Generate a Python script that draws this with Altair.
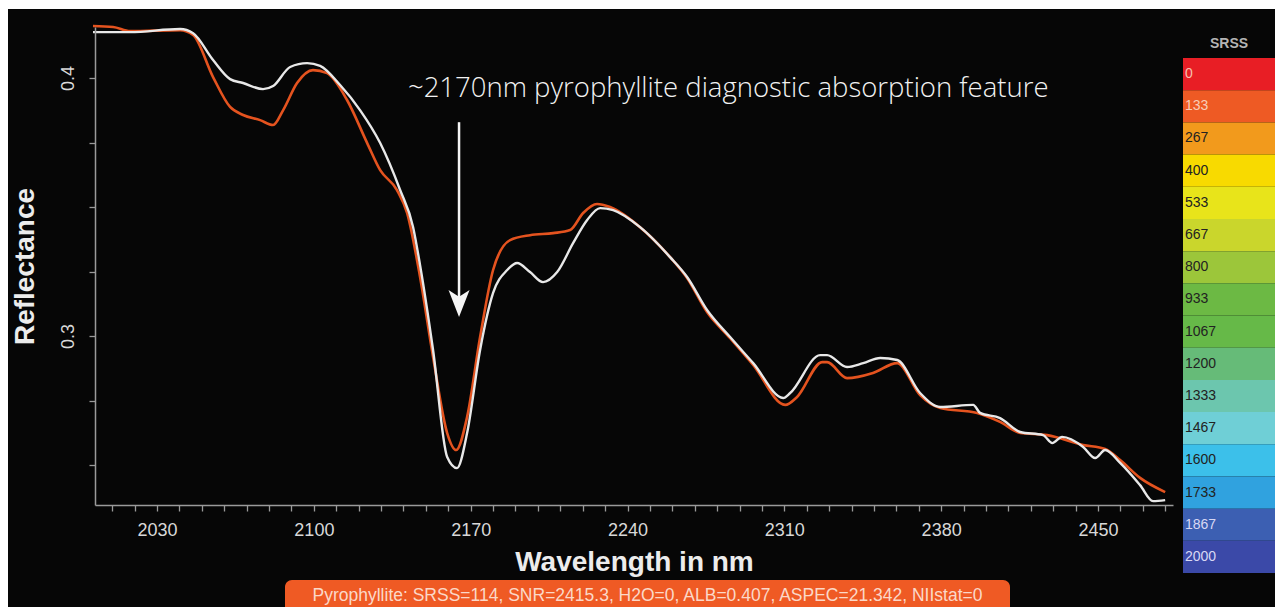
import altair as alt
import pandas as pd

# ---------------- data ----------------
white_nm = [2001.4, 2018.0, 2040.3, 2046.1, 2055.0, 2062.6, 2068.4, 2077.3, 2081.8, 2089.4,
            2097.0, 2102.8, 2111.7, 2120.6, 2129.6, 2138.5, 2144.3, 2147.4, 2153.2, 2159.5,
            2163.9, 2168.4, 2174.2, 2180.0, 2186.3, 2190.7, 2196.5, 2202.3, 2208.6, 2215.7,
            2222.0, 2227.8, 2233.6, 2245.6, 2259.0, 2266.6, 2275.5, 2285.8, 2296.1, 2309.5,
            2312.6, 2326.0, 2329.1, 2338.0, 2345.2, 2352.8, 2360.4, 2370.6, 2379.6, 2394.3,
            2397.4, 2406.3, 2415.3, 2425.5, 2429.6, 2434.0, 2443.4, 2448.8, 2453.2, 2459.9,
            2468.8, 2474.6, 2480.0]
white_refl = [0.4178, 0.4178, 0.4190, 0.4174, 0.4070, 0.3996, 0.3981, 0.3957, 0.3969, 0.4043,
              0.4058, 0.4047, 0.3973, 0.3876, 0.3748, 0.3566, 0.3422, 0.3275, 0.2946, 0.2531,
              0.2488, 0.2624, 0.2946, 0.3167, 0.3256, 0.3283, 0.3248, 0.3209, 0.3248, 0.3360,
              0.3450, 0.3496, 0.3488, 0.3422, 0.3306, 0.3229, 0.3101, 0.2996, 0.2895, 0.2760,
              0.2779, 0.2926, 0.2926, 0.2880, 0.2895, 0.2915, 0.2907, 0.2779, 0.2725, 0.2733,
              0.2702, 0.2682, 0.2628, 0.2616, 0.2585, 0.2609, 0.2570, 0.2527, 0.2558, 0.2508,
              0.2422, 0.2360, 0.2364]

orange_nm = [2001.4, 2010.4, 2018.0, 2040.3, 2046.1, 2055.0, 2062.6, 2068.4, 2076.0, 2081.8,
             2086.3, 2092.5, 2099.6, 2105.9, 2114.8, 2123.8, 2129.6, 2137.1, 2141.6, 2147.4,
             2153.2, 2159.5, 2163.5, 2168.4, 2174.2, 2180.0, 2187.6, 2196.5, 2206.8, 2214.4,
             2220.2, 2226.4, 2232.2, 2245.6, 2259.0, 2266.6, 2275.5, 2285.8, 2296.1, 2310.4,
             2315.7, 2326.9, 2329.1, 2338.0, 2349.6, 2360.4, 2370.6, 2379.6, 2396.1, 2406.3,
             2415.3, 2427.3, 2443.4, 2453.2, 2459.9, 2468.8, 2480.0]
orange_refl = [0.4202, 0.4198, 0.4182, 0.4186, 0.4167, 0.4004, 0.3888, 0.3857, 0.3837, 0.3818,
               0.3876, 0.3981, 0.4031, 0.4019, 0.3915, 0.3748, 0.3643, 0.3566, 0.3477, 0.3229,
               0.2919, 0.2624, 0.2558, 0.2686, 0.2996, 0.3256, 0.3372, 0.3391, 0.3399, 0.3411,
               0.3477, 0.3512, 0.3500, 0.3422, 0.3306, 0.3225, 0.3093, 0.2992, 0.2888, 0.2733,
               0.2764, 0.2899, 0.2899, 0.2837, 0.2857, 0.2895, 0.2771, 0.2721, 0.2702, 0.2667,
               0.2624, 0.2616, 0.2578, 0.2562, 0.2519, 0.2450, 0.2395]

srss_labels = ["0", "133", "267", "400", "533", "667", "800", "933", "1067",
               "1200", "1333", "1467", "1600", "1733", "1867", "2000"]
srss_colors = ["#e81e25", "#ee5a24", "#f29a1c", "#f8da00", "#e8e41a", "#cad62c",
               "#9cc63a", "#6cb944", "#66b948", "#66bb78", "#6cc6ae", "#6fcfd6",
               "#3cc0ea", "#30a2df", "#3c5fb2", "#3b49a8"]
srss_text = ["#f6c0b0", "#f8cdb8", "#222222", "#222222", "#222222", "#222222",
             "#222222", "#222222", "#222222", "#222222", "#222222", "#222222",
             "#222222", "#222222", "#d8d8f4", "#d8d8f4"]

x_ticks = list(range(2010, 2481, 10))
y_ticks = [0.25, 0.275, 0.3, 0.325, 0.35, 0.375, 0.4]

annotation_text = "~2170nm pyrophyllite diagnostic absorption feature"
arrow_nm = 2164.8
arrow_top = 0.3829
arrow_end = 0.3095
arrow_head = 0.3126
annot_nm = 2142.0
annot_refl = 0.3926

status_text = "Pyrophyllite:  SRSS=114, SNR=2415.3, H2O=0, ALB=0.407, ASPEC=21.342, NIIstat=0"

# ---------------- frames ----------------
white_df = pd.DataFrame({"nm": white_nm, "refl": white_refl})
orange_df = pd.DataFrame({"nm": orange_nm, "refl": orange_refl})
n = len(srss_labels)
legend_df = pd.DataFrame({
    "i": list(range(n)),
    "i2": [k + 1 for k in range(n)],
    "label": srss_labels,
    "color": srss_colors,
    "tcolor": srss_text,
})

X_DOM = [2002.3, 2483.5]
Y_DOM = [0.2345, 0.4198]
W, H = 1078, 478

xs = alt.Scale(domain=X_DOM, nice=False, zero=False)
ys = alt.Scale(domain=Y_DOM, nice=False, zero=False)

x_axis = alt.Axis(
    values=x_ticks, tickCount=200,
    labelExpr="(datum.value - 2030) % 70 == 0 ? datum.value : ''",
    title="Wavelength in nm",
    grid=False, zindex=2, labelOverlap=False,
    domainColor="#9a9a9a", domainWidth=1.5,
    tickColor="#9a9a9a", tickWidth=1.3, tickSize=6,
    labelColor="#d8d8d8", labelFont="Liberation Sans", labelFontSize=18,
    labelPadding=10, labelFlush=False,
    titleColor="#ececec", titleFont="Liberation Sans", titleFontSize=28,
    titleFontWeight="bold", titlePadding=9,
)
y_axis = alt.Axis(
    values=y_ticks, tickCount=50,
    labelExpr="(datum.value == 0.3 || datum.value == 0.4) ? format(datum.value, '.1f') : ''",
    title="Reflectance",
    grid=False, zindex=2, labelOverlap=False,
    domainColor="#9a9a9a", domainWidth=1.5,
    tickColor="#9a9a9a", tickWidth=1.3, tickSize=6,
    labelColor="#d8d8d8", labelFont="Liberation Sans", labelFontSize=18,
    labelAngle=270, labelAlign="center", labelBaseline="bottom", labelPadding=12,
    titleColor="#ececec", titleFont="Liberation Sans", titleFontSize=28,
    titleFontWeight="bold", titlePadding=20,
)

orange_line = alt.Chart(orange_df).mark_line(
    color="#e4531f", strokeWidth=2.6, interpolate="monotone"
).encode(
    x=alt.X("nm:Q", scale=xs, axis=x_axis),
    y=alt.Y("refl:Q", scale=ys, axis=y_axis),
)
white_line = alt.Chart(white_df).mark_line(
    color="#e8e8e8", strokeWidth=2.4, interpolate="monotone"
).encode(
    x=alt.X("nm:Q", scale=xs),
    y=alt.Y("refl:Q", scale=ys),
)

arrow_df = pd.DataFrame({"nm": [arrow_nm], "top": [arrow_top], "end": [arrow_end],
                         "head": [arrow_head]})
arrow_shaft = alt.Chart(arrow_df).mark_rule(color="#f4f4f4", strokeWidth=2.5).encode(
    x=alt.X("nm:Q", scale=xs), y=alt.Y("top:Q", scale=ys), y2="end:Q"
)
arrow_tip = alt.Chart(arrow_df).mark_point(
    shape="M0,1 L-0.78,-1 L0,-0.5 L0.78,-1 Z", size=729, filled=True,
    color="#f4f4f4", opacity=1, strokeWidth=0,
).encode(x=alt.X("nm:Q", scale=xs), y=alt.Y("head:Q", scale=ys))

annot_df = pd.DataFrame({"nm": [annot_nm], "refl": [annot_refl], "t": [annotation_text]})
annot = alt.Chart(annot_df).mark_text(
    align="left", baseline="alphabetic", font="Open Sans", fontWeight=300,
    fontSize=27.5, color="#f2f2f2"
).encode(x=alt.X("nm:Q", scale=xs), y=alt.Y("refl:Q", scale=ys), text="t:N")

main = alt.layer(orange_line, white_line, arrow_shaft, arrow_tip, annot)

# ---- SRSS colour bar ----
lx = alt.Scale(domain=[0, 1], range=[1088, 1180], nice=False, zero=False)
ly = alt.Scale(domain=[0, n], range=[31, 546], nice=False, zero=False)
bands = alt.Chart(legend_df).mark_rect().encode(
    x=alt.X(datum=0, scale=lx, axis=None), x2=alt.X2(datum=1),
    y=alt.Y("i:Q", scale=ly, axis=None), y2="i2:Q",
    color=alt.Color("color:N", scale=None),
)
band_labels = alt.Chart(legend_df).transform_calculate(
    mid="datum.i + 0.5"
).mark_text(align="left", baseline="middle", dx=2, font="Liberation Sans", fontSize=14).encode(
    x=alt.X(datum=0, scale=lx, axis=None),
    y=alt.Y("mid:Q", scale=ly, axis=None),
    text="label:N",
    color=alt.Color("tcolor:N", scale=None),
)
srss_title = alt.Chart(pd.DataFrame({"t": ["SRSS"], "pos": [-0.45], "x": [0.5]})).mark_text(
    align="center", baseline="middle", font="Liberation Sans", fontSize=14,
    fontWeight="bold", color="#b4b4b4",
).encode(x=alt.X("x:Q", scale=lx, axis=None), y=alt.Y("pos:Q", scale=ly, axis=None), text="t:N")
legend = alt.layer(bands, band_labels, srss_title)

# ---- status box ----
bx = alt.Scale(domain=[0, 1], range=[190, 915], nice=False, zero=False)
by = alt.Scale(domain=[0, 1], range=[553, 600], nice=False, zero=False)
box_df = pd.DataFrame({"x0": [0], "x1": [1], "y0": [0], "y1": [1], "xm": [0.5], "ym": [0.35],
                       "t": [status_text]})
box = alt.Chart(box_df).mark_rect(color="#ef5a24", cornerRadius=7).encode(
    x=alt.X("x0:Q", scale=bx, axis=None), x2="x1:Q",
    y=alt.Y("y0:Q", scale=by, axis=None), y2="y1:Q",
)
box_text = alt.Chart(box_df).mark_text(
    align="center", baseline="middle", font="Liberation Sans", fontSize=17.5, color="#fbd8c8"
).encode(x=alt.X("xm:Q", scale=bx, axis=None), y=alt.Y("ym:Q", scale=by, axis=None), text="t:N")
status = alt.layer(box, box_text)

# ---- black panel (decoration behind everything) ----
panel = alt.Chart(pd.DataFrame({"a": [0]})).mark_rect(color="#060606").encode(
    x=alt.value(-87), x2=alt.value(1185), y=alt.value(-18), y2=alt.value(590)
)

chart = alt.layer(panel, main, legend, status).resolve_scale(
    x="independent", y="independent"
).properties(
    width=W, height=H,
    background="#ffffff",
    padding={"left": 95, "top": 27, "right": 102, "bottom": 102},
    autosize=alt.AutoSizeParams(type="none"),
).configure_view(stroke=None)

chart.save("out.html", embed_options={"renderer": "svg", "actions": False})
